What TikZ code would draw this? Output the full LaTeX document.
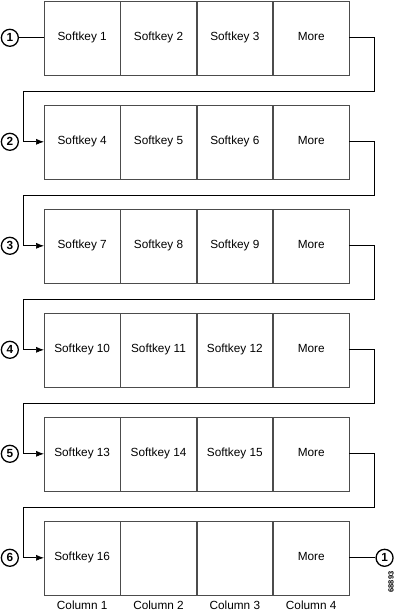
\documentclass[tikz,border=0pt]{standalone}
\usepackage{fontspec}
\setmainfont{Liberation Sans}
\usepackage{tikz}
\usetikzlibrary{arrows.meta,positioning}
\newcommand{\keyfont}{\fontsize{11.8}{13}\selectfont}

\begin{document}
\begin{tikzpicture}[x=1pt,y=-1pt,
  key/.style={rectangle,draw=black!70,line width=0.6pt,minimum width=75.75pt,
              minimum height=74pt,inner sep=0pt,font=\keyfont,
              text height=1.55ex,text depth=0.45ex},
  num/.style={circle,draw,line width=1.3pt,minimum size=17pt,inner sep=0pt,
              font=\keyfont\bfseries},
  link/.style={line width=0.7pt},
  arr/.style={-{Latex[length=8pt,width=6pt]},line width=0.7pt},
  col/.style={font=\keyfont}
]
\useasboundingbox (0,0) rectangle (404,611);

% softkey rows
\foreach \r/\a/\b/\c in {1/Softkey 1/Softkey 2/Softkey 3,
                         2/Softkey 4/Softkey 5/Softkey 6,
                         3/Softkey 7/Softkey 8/Softkey 9,
                         4/Softkey 10/Softkey 11/Softkey 12,
                         5/Softkey 13/Softkey 14/Softkey 15,
                         6/Softkey 16//}{
  \node[key,anchor=north west] (k\r-1) at (44,{0.5+(\r-1)*104}) {\a};
  \node[key,right=0pt of k\r-1] (k\r-2) {\b};
  \node[key,right=0pt of k\r-2] (k\r-3) {\c};
  \node[key,right=0pt of k\r-3] (k\r-4) {More};
  \node[num,left=25pt of k\r-1] (n\r) {\r};
}

\draw[link] (n1) -- (k1-1);

% wrap-around connectors
\foreach \r [evaluate=\r as \n using int(\r+1)] in {1,...,5}{
  \draw[arr] (k\r-4.east) -- ++(25,0)
    |- ([xshift=-21pt,yshift=-16pt]k\r-1.south west) |- (k\n-1.west);
}

\node[num,right=26pt of k6-4] (e1) {1};
\draw[link] (k6-4) -- (e1);

% column captions
\foreach \c in {1,...,4}
  \node[col,below=2pt of k6-\c] (c\c) {Column \c};

\node[font=\fontsize{7.5}{8}\selectfont\bfseries,rotate=90] (id) at (391,582) {68893};
\end{tikzpicture}
\end{document}
